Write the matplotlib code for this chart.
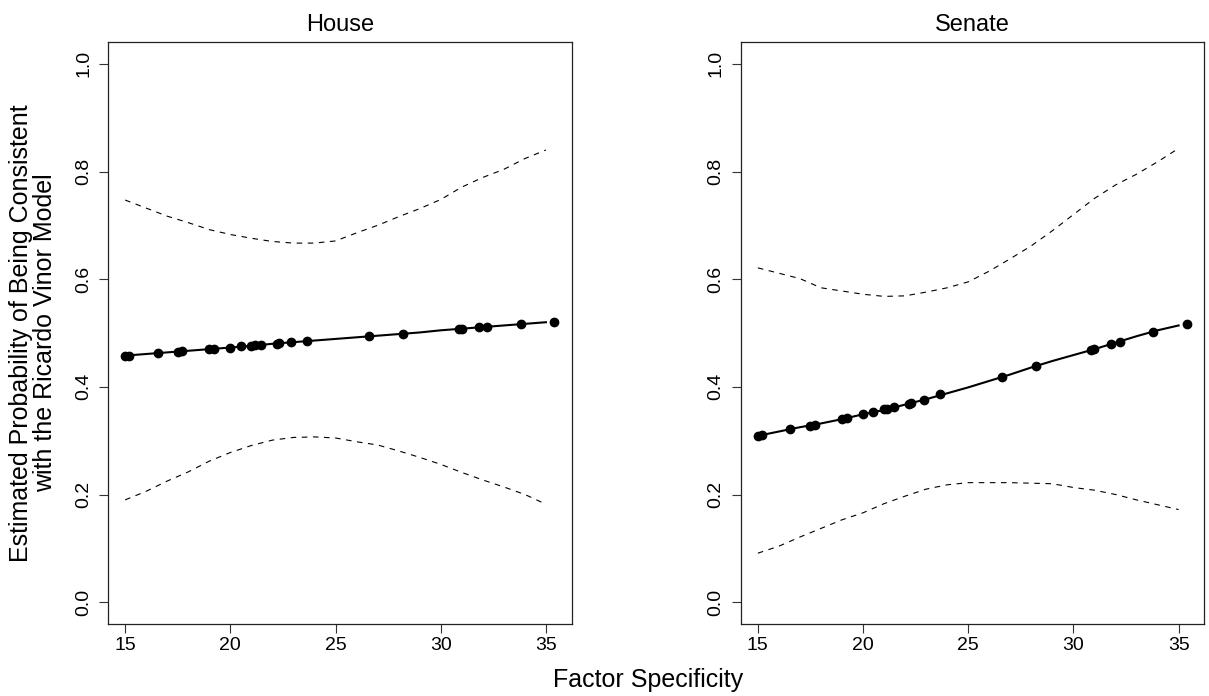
import matplotlib
matplotlib.use("Agg")
import matplotlib.pyplot as plt

plt.rcParams['font.family'] = ['Liberation Sans', 'DejaVu Sans']

# ---------------- data ----------------
panel_titles = ["House", "Senate"]
x_label = "Factor Specificity"
y_label = "Estimated Probability of Being Consistent\nwith the Ricardo Vinor Model"
x_ticks = [15, 20, 25, 30, 35]
y_ticks = [0.0, 0.2, 0.4, 0.6, 0.8, 1.0]
y_tick_labels = ["0.0", "0.2", "0.4", "0.6", "0.8", "1.0"]

# observed factor specificity values (points)
obs_x = [15.0, 15.2, 16.55, 17.5, 17.7, 19.0, 19.24, 20.0, 20.49, 21.0, 21.15,
         21.45, 22.2, 22.3, 22.9, 23.65, 26.6, 28.2, 30.85, 31.0, 31.8, 32.2,
         33.8, 35.4]
house_obs_y = [0.458, 0.458, 0.463, 0.465, 0.466, 0.470, 0.471, 0.473, 0.475,
               0.476, 0.477, 0.478, 0.480, 0.481, 0.483, 0.485, 0.494, 0.499,
               0.508, 0.508, 0.511, 0.512, 0.517, 0.521]
senate_obs_y = [0.309, 0.311, 0.321, 0.328, 0.330, 0.340, 0.342, 0.349, 0.353,
                0.358, 0.359, 0.362, 0.369, 0.370, 0.376, 0.386, 0.419, 0.438,
                0.468, 0.470, 0.479, 0.484, 0.502, 0.517]

# prediction grid and curves
grid_x = [15, 16, 17, 18, 19, 20, 21, 22, 23, 24, 25, 26, 27, 28, 29, 30, 31,
          32, 33, 34, 35]
house_fit = [0.458, 0.461, 0.464, 0.467, 0.470, 0.473, 0.476, 0.480, 0.483,
             0.486, 0.489, 0.492, 0.495, 0.498, 0.501, 0.505, 0.508, 0.511,
             0.514, 0.517, 0.520]
house_upper = [0.747, 0.732, 0.717, 0.705, 0.692, 0.683, 0.676, 0.670, 0.667,
               0.667, 0.671, 0.686, 0.700, 0.716, 0.731, 0.748, 0.771, 0.789,
               0.804, 0.824, 0.840]
house_lower = [0.190, 0.206, 0.225, 0.242, 0.262, 0.278, 0.291, 0.301, 0.306,
               0.307, 0.305, 0.298, 0.292, 0.281, 0.269, 0.256, 0.241, 0.227,
               0.214, 0.200, 0.182]
senate_fit = [0.309, 0.317, 0.325, 0.332, 0.340, 0.349, 0.357, 0.367, 0.377,
              0.388, 0.399, 0.411, 0.423, 0.436, 0.448, 0.459, 0.470, 0.482,
              0.494, 0.505, 0.514]
senate_upper = [0.621, 0.611, 0.601, 0.584, 0.578, 0.572, 0.568, 0.569, 0.576,
                0.584, 0.595, 0.615, 0.638, 0.662, 0.690, 0.720, 0.750, 0.775,
                0.795, 0.818, 0.843]
senate_lower = [0.091, 0.104, 0.121, 0.137, 0.153, 0.166, 0.183, 0.197, 0.210,
                0.218, 0.222, 0.222, 0.222, 0.221, 0.220, 0.213, 0.208, 0.200,
                0.190, 0.181, 0.172]

panels = [
    (panel_titles[0], house_obs_y, house_fit, house_upper, house_lower),
    (panel_titles[1], senate_obs_y, senate_fit, senate_upper, senate_lower),
]

# ---------------- figure ----------------
W, H = 1209, 696
fig = plt.figure(figsize=(W / 100, H / 100), dpi=100)
bottom = 1 - 623.7 / H
height = 581.4 / H
lefts = [108 / W, 740.7 / W]
width = 463.5 / W

xmin, xmax = min(obs_x), max(obs_x)
pad = 0.04 * (xmax - xmin)

for i, (title, oy, fit, up, lo) in enumerate(panels):
    ax = fig.add_axes([lefts[i], bottom, width, height])
    ax.plot(grid_x, fit, color='black', lw=1.5, zorder=3)
    ax.plot(obs_x, oy, 'o', color='black', ms=6, zorder=4)
    ax.plot(grid_x, up, color='black', lw=0.8, ls=(0, (5, 5)))
    ax.plot(grid_x, lo, color='black', lw=0.8, ls=(0, (5, 5)))
    ax.set_xlim(xmin - pad, xmax + pad)
    ax.set_ylim(-0.04, 1.04)
    ax.set_xticks(x_ticks)
    ax.set_yticks(y_ticks)
    ax.set_yticklabels(y_tick_labels, rotation=90, va='center')
    ax.tick_params(direction='out', length=6.5, width=0.8, labelsize=14,
                   color='#333333')
    ax.tick_params(axis='x', pad=3)
    ax.tick_params(axis='y', pad=5)
    for s in ax.spines.values():
        s.set_linewidth(0.9)
        s.set_color('#222222')
    ax.set_title(title, fontsize=17, pad=8)

fig.text(648 / W, 1 - 687.3 / H, x_label, ha='center', va='baseline', fontsize=18)
fig.text(33 / W, 1 - 333 / H, y_label, ha='center', va='center', rotation=90,
         fontsize=18, linespacing=1.0, multialignment='center')

fig.savefig("out.png", dpi=100)
